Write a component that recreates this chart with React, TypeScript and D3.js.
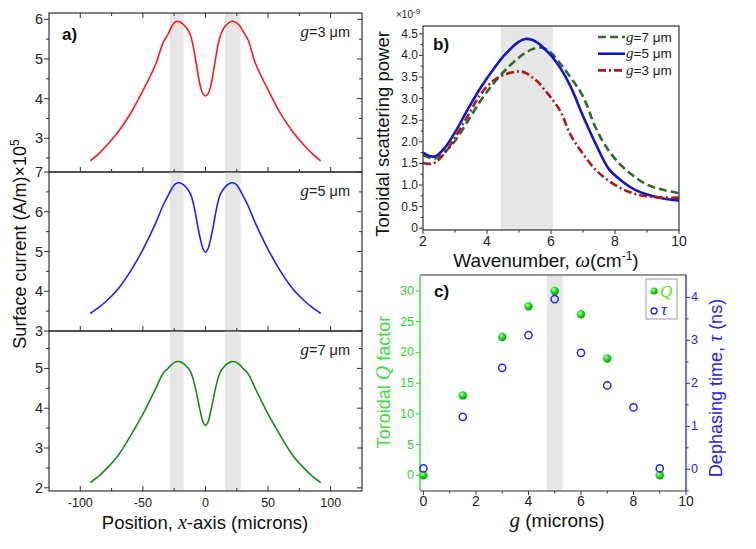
import React from "react";
import * as d3 from "d3";

// panel a: surface current along x (×10^5 A/m)
const posX = [-92, -85, -80, -70, -60, -50, -40, -34, -30, -27, -24, -21, -18, -15, -12, -10, -8, -6, -4, -2, 0, 2, 4, 6, 8, 10, 12, 15, 18, 21, 24, 27, 30, 34, 40, 50, 60, 70, 80, 85, 92];
const currentG3 = [2.43, 2.62, 2.78, 3.15, 3.62, 4.2, 4.85, 5.4, 5.62, 5.82, 5.94, 5.94, 5.88, 5.78, 5.6, 5.35, 5.0, 4.62, 4.3, 4.12, 4.07, 4.12, 4.3, 4.62, 5.0, 5.35, 5.6, 5.8, 5.9, 5.95, 5.93, 5.85, 5.7, 5.48, 4.88, 4.22, 3.62, 3.15, 2.78, 2.62, 2.43];
const currentG5 = [3.44, 3.6, 3.73, 4.05, 4.5, 5.05, 5.7, 6.15, 6.4, 6.58, 6.7, 6.73, 6.69, 6.6, 6.45, 6.25, 5.95, 5.6, 5.3, 5.07, 4.98, 5.07, 5.3, 5.6, 5.95, 6.25, 6.45, 6.6, 6.69, 6.73, 6.7, 6.58, 6.4, 6.15, 5.7, 5.05, 4.5, 4.05, 3.73, 3.6, 3.44];
const currentG7 = [2.13, 2.3, 2.45, 2.8, 3.3, 3.85, 4.48, 4.87, 5.0, 5.1, 5.16, 5.17, 5.13, 5.05, 4.92, 4.75, 4.5, 4.2, 3.9, 3.65, 3.57, 3.65, 3.9, 4.2, 4.5, 4.75, 4.92, 5.05, 5.13, 5.17, 5.16, 5.1, 5.0, 4.87, 4.48, 3.85, 3.3, 2.8, 2.45, 2.3, 2.13];
const bandsX = [[-28.5, -17.5], [15.5, 28]];

// panel b: toroidal scattering power (×10^-9)
const wavenumber = [2, 2.2, 2.4, 2.7, 3, 3.4, 3.8, 4.2, 4.6, 5, 5.2, 5.4, 5.6, 5.8, 6, 6.3, 6.6, 7, 7.4, 7.8, 8.2, 8.6, 9, 9.5, 10];
const powerG7 = [1.7, 1.63, 1.62, 1.78, 2.02, 2.48, 2.95, 3.35, 3.68, 3.95, 4.06, 4.14, 4.18, 4.16, 4.06, 3.8, 3.5, 3.05, 2.32, 1.8, 1.45, 1.2, 1.01, 0.89, 0.81];
const powerG5 = [1.75, 1.67, 1.67, 1.88, 2.22, 2.75, 3.25, 3.68, 4.05, 4.32, 4.38, 4.36, 4.28, 4.15, 4.0, 3.7, 3.3, 2.6, 1.95, 1.38, 1.1, 0.9, 0.78, 0.69, 0.64];
const powerG3 = [1.51, 1.49, 1.53, 1.76, 2.1, 2.6, 3.1, 3.42, 3.57, 3.63, 3.6, 3.5, 3.38, 3.2, 3.02, 2.7, 2.18, 1.72, 1.35, 1.1, 0.92, 0.8, 0.74, 0.71, 0.71];
const bandB = [4.43, 6.06];

// panel c: Q factor and dephasing time vs gap g
const gapQ = [0, 1.5, 3, 4, 5, 6, 7, 9];
const qFactor = [0, 13, 22.5, 27.5, 30, 26.2, 19, 0];
const gapTau = [0, 1.5, 3, 4, 5, 6, 7, 8, 9];
const tauNs = [0.02, 1.22, 2.36, 3.12, 3.96, 2.71, 1.95, 1.44, 0.02];
const bandC = [4.7, 5.3];

const SANS = "'Liberation Sans', Arial, sans-serif";
const SERIF = "'Liberation Serif', 'Times New Roman', serif";
const BAND = "#e6e6e6";
const AX = "#333";

const A = { left: 49, right: 362 };
const aPanels = [
  { top: 13, bottom: 172, domain: [2.15, 6.16], ys: currentG3, color: "#ff1a1a", g: "3", ticks: [3, 4, 5, 6] },
  { top: 172, bottom: 331, domain: [3, 7], ys: currentG5, color: "#1f1fff", g: "5", ticks: [3, 4, 5, 6, 7] },
  { top: 331, bottom: 491, domain: [1.92, 5.94], ys: currentG7, color: "#1a8a1a", g: "7", ticks: [2, 3, 4, 5] },
];
const xA = d3.scaleLinear().domain([-125, 125]).range([A.left, A.right]);
const xMajorA = [-100, -50, 0, 50, 100];
const xMinorA = [-75, -25, 25, 75];

const PanelA = () => (
  <g>
    {aPanels.map((p, k) => {
      const y = d3.scaleLinear().domain(p.domain).range([p.bottom, p.top]);
      const line = d3
        .line<number>()
        .x((d, i) => xA(posX[i]))
        .y((d) => y(d))
        .curve(d3.curveCatmullRom);
      const minors = d3.range(Math.ceil(p.domain[0] * 2) / 2, p.domain[1], 0.5).filter((v) => v % 1 !== 0);
      return (
        <g key={k}>
          {bandsX.map((b, j) => (
            <rect key={j} x={xA(b[0])} y={p.top} width={xA(b[1]) - xA(b[0])} height={p.bottom - p.top} fill={BAND} />
          ))}
          <path d={line(p.ys) || ""} fill="none" stroke={p.color} strokeWidth={1.6} />
          <rect x={A.left} y={p.top} width={A.right - A.left} height={p.bottom - p.top} fill="none" stroke={AX} strokeWidth={1.2} />
          {p.ticks.map((t) => (
            <g key={t}>
              <line x1={A.left - 5} x2={A.left} y1={y(t)} y2={y(t)} stroke={AX} />
              <line x1={A.right - 5} x2={A.right} y1={y(t)} y2={y(t)} stroke={AX} />
              <text x={A.left - 6} y={y(t) + 5} textAnchor="end" fontSize={14.5} fontFamily={SANS} fill="#222">{t}</text>
            </g>
          ))}
          {minors.map((t) => (
            <g key={t}>
              <line x1={A.left - 3} x2={A.left} y1={y(t)} y2={y(t)} stroke={AX} />
              <line x1={A.right - 3} x2={A.right} y1={y(t)} y2={y(t)} stroke={AX} />
            </g>
          ))}
          {xMajorA.map((t) => (
            <line key={t} x1={xA(t)} x2={xA(t)} y1={p.bottom} y2={p.bottom - 5} stroke={AX} />
          ))}
          {xMinorA.map((t) => (
            <line key={t} x1={xA(t)} x2={xA(t)} y1={p.bottom} y2={p.bottom - 3} stroke={AX} />
          ))}
          {k === 0 &&
            xMajorA.map((t) => <line key={"t" + t} x1={xA(t)} x2={xA(t)} y1={p.top} y2={p.top + 5} stroke={AX} />)}
          {k === 0 &&
            xMinorA.map((t) => <line key={"m" + t} x1={xA(t)} x2={xA(t)} y1={p.top} y2={p.top + 3} stroke={AX} />)}
          <text x={350} y={p.top + 24} textAnchor="end" fontSize={14.5} fontFamily={SANS} fill="#222">
            <tspan fontFamily={SERIF} fontStyle="italic" fontSize={17.5}>g</tspan>={p.g} μm
          </text>
        </g>
      );
    })}
    <text x={62} y={40} fontSize={17} fontWeight="bold" fontFamily={SANS} fill="#111">a)</text>
    {xMajorA.map((t) => (
      <text key={t} x={xA(t)} y={507} textAnchor="middle" fontSize={12.5} fontFamily={SANS} fill="#222">{t}</text>
    ))}
    <text x={205} y={529} textAnchor="middle" fontSize={18.5} fontFamily={SANS} fill="#111">
      Position, <tspan fontFamily={SERIF} fontStyle="italic" fontSize={20}>x</tspan>-axis (microns)
    </text>
    <text transform="translate(26,244) rotate(-90)" textAnchor="middle" fontSize={18} fontFamily={SANS} fill="#111">
      Surface current (A/m)×10<tspan dy={-7} fontSize={12}>5</tspan>
    </text>
  </g>
);

const B = { left: 423, right: 679, top: 26, bottom: 230 };
const xB = d3.scaleLinear().domain([2, 10]).range([B.left, B.right]);
const yB = d3.scaleLinear().domain([-0.04, 4.68]).range([B.bottom, B.top]);
const bSeries = [
  { ys: powerG7, color: "#2e6b2e", dash: "8,4", label: "7" },
  { ys: powerG5, color: "#1414d0", dash: "", label: "5" },
  { ys: powerG3, color: "#b01818", dash: "8,3,2,3", label: "3" },
];

const PanelB = () => {
  const line = (ys: number[]) =>
    d3
      .line<number>()
      .x((d, i) => xB(wavenumber[i]))
      .y((d) => yB(d))
      .curve(d3.curveCatmullRom)(ys) || "";
  const yMajor = d3.range(0, 4.51, 0.5);
  const yMinor = d3.range(0.25, 4.6, 0.5);
  return (
    <g>
      <defs>
        <clipPath id="clipB">
          <rect x={B.left} y={B.top} width={B.right - B.left} height={B.bottom - B.top} />
        </clipPath>
      </defs>
      <rect x={xB(bandB[0])} y={B.top} width={xB(bandB[1]) - xB(bandB[0])} height={B.bottom - B.top} fill={BAND} />
      <g clipPath="url(#clipB)">
        {bSeries.map((s) => (
          <path key={s.label} d={line(s.ys)} fill="none" stroke={s.color} strokeWidth={2.6} strokeDasharray={s.dash} />
        ))}
      </g>
      <rect x={B.left} y={B.top} width={B.right - B.left} height={B.bottom - B.top} fill="none" stroke={AX} strokeWidth={1.2} />
      {yMajor.map((t) => (
        <g key={t}>
          <line x1={B.left - 4} x2={B.left} y1={yB(t)} y2={yB(t)} stroke={AX} />
          <text x={B.left - 5} y={yB(t) + 4} textAnchor="end" fontSize={12} fontFamily={SANS} fill="#222">
            {t === 0 ? "0" : t.toFixed(1)}
          </text>
        </g>
      ))}
      {yMinor.map((t) => (
        <line key={t} x1={B.left - 2.5} x2={B.left} y1={yB(t)} y2={yB(t)} stroke={AX} />
      ))}
      {[2, 4, 6, 8, 10].map((t) => (
        <g key={t}>
          <line x1={xB(t)} x2={xB(t)} y1={B.bottom} y2={B.bottom + 4} stroke={AX} />
          <text x={xB(t)} y={246} textAnchor="middle" fontSize={14} fontFamily={SANS} fill="#222">{t}</text>
        </g>
      ))}
      {[3, 5, 7, 9].map((t) => (
        <line key={t} x1={xB(t)} x2={xB(t)} y1={B.bottom} y2={B.bottom + 2.5} stroke={AX} />
      ))}
      <text x={396} y={18} fontSize={10} fontFamily={SANS} fill="#222">
        ×10<tspan dy={-4} fontSize={8}>-9</tspan>
      </text>
      <text x={433} y={50} fontSize={17} fontWeight="bold" fontFamily={SANS} fill="#111">b)</text>
      {bSeries.map((s, i) => (
        <g key={s.label}>
          <line x1={598} x2={625} y1={37 + i * 16.7} y2={37 + i * 16.7} stroke={s.color} strokeWidth={2.6} strokeDasharray={s.dash} />
          <text x={626} y={41.5 + i * 16.7} fontSize={13.5} fontFamily={SANS} fill="#222">
            <tspan fontFamily={SERIF} fontStyle="italic" fontSize={15}>g</tspan>={s.label} μm
          </text>
        </g>
      ))}
      <text x={546} y={267} textAnchor="middle" fontSize={19} fontFamily={SANS} fill="#111">
        Wavenumber, <tspan fontFamily={SERIF} fontStyle="italic" fontSize={21}>ω</tspan>(cm<tspan dy={-7} fontSize={12}>-1</tspan><tspan dy={7}>)</tspan>
      </text>
      <text transform="translate(389,134) rotate(-90)" textAnchor="middle" fontSize={18.5} fontFamily={SANS} fill="#111">
        Toroidal scattering power
      </text>
    </g>
  );
};

const C = { left: 420, right: 686, top: 275, bottom: 491 };
const xC = d3.scaleLinear().domain([-0.13, 10]).range([C.left, C.right]);
const yQ = d3.scaleLinear().domain([-2.56, 32.6]).range([C.bottom, C.top]);
const yT = d3.scaleLinear().domain([-0.505, 4.52]).range([C.bottom, C.top]);
const GREEN = "#2fd42f";
const BLUE = "#2424f0";

const PanelC = () => (
  <g>
    <defs>
      <radialGradient id="qdot" cx="38%" cy="35%" r="65%">
        <stop offset="0%" stopColor="#d8ffd8" />
        <stop offset="45%" stopColor="#22e022" />
        <stop offset="100%" stopColor="#00a000" />
      </radialGradient>
    </defs>
    <rect x={xC(bandC[0])} y={C.top} width={xC(bandC[1]) - xC(bandC[0])} height={C.bottom - C.top} fill={BAND} />
    <line x1={C.left} x2={C.right} y1={C.top} y2={C.top} stroke={AX} strokeWidth={1.2} />
    <line x1={C.left} x2={C.right} y1={C.bottom} y2={C.bottom} stroke={AX} strokeWidth={1.2} />
    <line x1={C.left} x2={C.left} y1={C.top} y2={C.bottom} stroke={GREEN} strokeWidth={1.3} />
    <line x1={C.right} x2={C.right} y1={C.top} y2={C.bottom} stroke={BLUE} strokeWidth={1.3} />
    {[0, 5, 10, 15, 20, 25, 30].map((t) => (
      <g key={t}>
        <line x1={C.left - 4} x2={C.left} y1={yQ(t)} y2={yQ(t)} stroke={GREEN} />
        <text x={C.left - 6} y={yQ(t) + 4} textAnchor="end" fontSize={12.5} fontFamily={SANS} fill={GREEN}>{t}</text>
      </g>
    ))}
    {[0, 1, 2, 3, 4].map((t) => (
      <g key={t}>
        <line x1={C.right} x2={C.right + 4} y1={yT(t)} y2={yT(t)} stroke={BLUE} />
        <text x={C.right + 5} y={yT(t) + 4} fontSize={12.5} fontFamily={SANS} fill={BLUE}>{t}</text>
      </g>
    ))}
    {[-0.5, 0.5, 1.5, 2.5, 3.5].map((t) => (
      <line key={t} x1={C.right} x2={C.right + 2.5} y1={yT(t)} y2={yT(t)} stroke={BLUE} />
    ))}
    {[0, 2, 4, 6, 8, 10].map((t) => (
      <g key={t}>
        <line x1={xC(t)} x2={xC(t)} y1={C.bottom} y2={C.bottom + 4} stroke={AX} />
        <text x={xC(t)} y={506} textAnchor="middle" fontSize={14} fontFamily={SANS} fill="#222">{t}</text>
      </g>
    ))}
    {[1, 3, 5, 7, 9].map((t) => (
      <line key={t} x1={xC(t)} x2={xC(t)} y1={C.bottom} y2={C.bottom + 2.5} stroke={AX} />
    ))}
    {gapQ.map((g, i) => (
      <circle key={"q" + i} cx={xC(g)} cy={yQ(qFactor[i])} r={4.2} fill="url(#qdot)" />
    ))}
    {gapTau.map((g, i) => (
      <circle key={"t" + i} cx={xC(g)} cy={yT(tauNs[i])} r={3.6} fill="none" stroke={BLUE} strokeWidth={1.5} />
    ))}
    <text x={434} y={297} fontSize={17} fontWeight="bold" fontFamily={SANS} fill="#111">c)</text>
    <rect x={646} y={279} width={31} height={40} fill="#fff" stroke="#999" strokeWidth={1} />
    <circle cx={654} cy={291} r={3.6} fill="url(#qdot)" />
    <text x={660} y={297} fontSize={17} fontFamily={SERIF} fontStyle="italic" fill="#66dd22">Q</text>
    <circle cx={654} cy={311} r={3} fill="none" stroke={BLUE} strokeWidth={1.3} />
    <text x={661} y={315} fontSize={17} fontFamily={SERIF} fontStyle="italic" fill={BLUE}>τ</text>
    <text x={557} y={527} textAnchor="middle" fontSize={19} fontFamily={SANS} fill="#111">
      <tspan fontFamily={SERIF} fontStyle="italic" fontSize={21}>g</tspan> (microns)
    </text>
    <text transform="translate(390,382) rotate(-90)" textAnchor="middle" fontSize={18} fontFamily={SANS} fill="#3ddc3d">
      Toroidal <tspan fontFamily={SERIF} fontStyle="italic" fontSize={20}>Q</tspan> factor
    </text>
    <text transform="translate(722,388) rotate(-90)" textAnchor="middle" fontSize={18} fontFamily={SANS} fill={BLUE}>
      Dephasing time, <tspan fontFamily={SERIF} fontStyle="italic" fontSize={20}>τ</tspan> (ns)
    </text>
  </g>
);

export default function App() {
  return (
    <svg
      width={756}
      height={549}
      viewBox="0 0 756 549"
      style={{ position: "absolute", left: 0, top: 0, background: "#fff" }}
    >
      <rect width={756} height={549} fill="#fff" />
      <PanelA />
      <PanelB />
      <PanelC />
    </svg>
  );
}
